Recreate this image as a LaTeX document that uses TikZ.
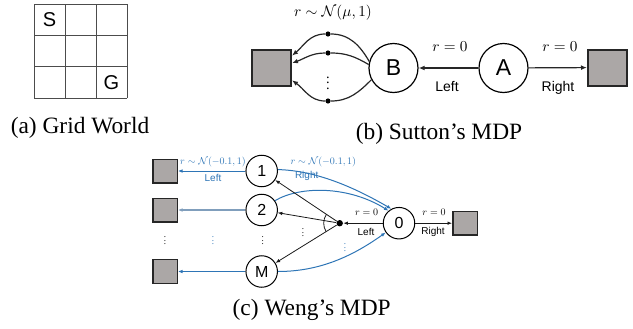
\RequirePackage{fix-cm}
\documentclass[tikz,border=0pt]{standalone}
\usepackage{graphicx}
\usepackage[no-math]{fontspec}
\setmainfont{Liberation Serif}
\setsansfont{Liberation Sans}
\usetikzlibrary{arrows.meta}
\definecolor{tgray}{RGB}{171,167,166}
\definecolor{mblue}{RGB}{46,117,182}
\definecolor{mbluegray}{RGB}{128,158,188}
\begin{document}
\begin{tikzpicture}[x=0.5pt,y=0.5pt,
  captext/.style={font=\fontsize{11.7}{13}\selectfont, anchor=base, inner sep=0},
  gridline/.style={draw=black!70, line width=0.5pt},
  glabel/.style={font=\sffamily\fontsize{10}{12}\selectfont, inner sep=0},
  bstate/.style={circle, draw, line width=0.6pt, minimum size=24.5pt, inner sep=0, font=\sffamily\fontsize{11.5}{12}\selectfont},
  cstate/.style={circle, draw, line width=0.5pt, minimum size=15.75pt, inner sep=0, font=\sffamily\fontsize{8}{9}\selectfont},
  bterm/.style={draw=black!85, fill=tgray, line width=1pt, minimum width=19.5pt, minimum height=18pt, inner sep=0},
  cterm/.style={draw=black!85, fill=tgray, line width=0.7pt, minimum width=12.2pt, minimum height=11.8pt, inner sep=0},
  bdot/.style={circle, fill, inner sep=0, minimum size=2.6pt},
  cdot/.style={circle, fill, inner sep=0, minimum size=3.2pt},
  bline/.style={draw=black!85, line width=0.6pt},
  barrow/.style={bline, -{Latex[length=3pt,width=2.4pt]}},
  cblk/.style={draw=black!90, line width=0.4pt, -{Latex[length=2.3pt,width=1.8pt]}},
  cblue/.style={draw=mblue, line width=0.5pt, -{Latex[length=2.3pt,width=1.8pt]}},
  blab/.style={font=\sffamily\fontsize{7}{8}\selectfont, anchor=base, inner sep=0},
  bmath/.style={font=\fontsize{10}{12}\selectfont, anchor=base, inner sep=0, scale=0.76},
  clab/.style={font=\sffamily\fontsize{5}{6}\selectfont, anchor=base, inner sep=0},
  cmath/.style={font=\fontsize{10}{12}\selectfont, anchor=base, inner sep=0, scale=0.5},
  vdotb/.style={inner sep=0, font=\fontsize{10}{12}\selectfont, scale=0.72},
  vdotc/.style={inner sep=0, font=\fontsize{10}{12}\selectfont, scale=0.45},
]
\useasboundingbox (0,0) rectangle (633,328);

% ---------- (a) Grid World ----------
\foreach \gx in {34,65,96,127} \draw[gridline] (\gx,230) -- (\gx,324);
\foreach \gy in {230,261.3,292.7,324} \draw[gridline] (34,\gy) -- (127,\gy);
\node[glabel] (S) at (49.5,308.3) {S};
\node[glabel] (G) at (111.5,245.7) {G};
\node[captext] (capa) at (80,195) {(a) Grid World};

% ---------- (b) Sutton's MDP ----------
\node[bterm] (sqL) at (271.5,260.5) {};
\node[bstate] (B) at (393.5,260) {B};
\node[bstate] (A) at (503.5,260) {A};
\node[bterm] (sqR) at (607.5,260.5) {};
\node[bdot] (d1) at (328,294) {};
\node[bdot] (d2) at (328,275) {};
\node[bdot] (d3) at (328,227) {};
\node[vdotb] (vb) at (328,249) {$\vdots$};

\draw[bline] (B.165) to[out=120,in=0] (d1);
\draw[bline] (B.172) to[out=150,in=0] (d2);
\draw[bline] (B.208) to[out=225,in=0] (d3);
\draw[barrow] (d1) to[out=180,in=40] (sqL.30);
\draw[barrow] (d2) to[out=180,in=20] (sqL.12);
\draw[barrow] (d3) to[out=180,in=-35] (sqL.-32);
\draw[barrow] (A) -- (B);
\draw[barrow] (A) -- (sqR);

\node[bmath] (rn) at (333,312) {$r\sim\mathcal{N}(\mu,1)$};
\node[bmath] (rl) at (450,276.5) {$r=0$};
\node[blab] (ll) at (447,236.3) {Left};
\node[bmath] (rr) at (560,276.5) {$r=0$};
\node[blab] (lr) at (558,236.3) {Right};
\node[captext] (capb) at (439,189) {(b) Sutton's MDP};

% ---------- (c) Weng's MDP ----------
\node[cterm] (s1) at (165,157) {};
\node[cterm] (s2) at (165,118) {};
\node[cterm] (s3) at (165,56.5) {};
\node[cstate] (n1) at (261.7,157) {1};
\node[cstate] (n2) at (261.7,118) {2};
\node[cstate] (nM) at (261.7,56.5) {M};
\node[cdot] (c) at (339.7,104.8) {};
\node[cstate] (n0) at (399,104.8) {0};
\node[cterm] (sR) at (465,104.8) {};

\node[vdotc] (v1) at (165,90) {$\vdots$};
\node[vdotc, text=mblue] (v2) at (213,90) {$\vdots$};
\node[vdotc] (v3) at (262.7,90) {$\vdots$};
\node[vdotc] (v4) at (303,98) {$\vdots$};
\node[vdotc, text=mblue] (v5) at (345,83) {$\vdots$};

\draw[cblue] (n1) -- (s1);
\draw[cblue, draw=mbluegray, line width=0.8pt] (n2) -- (s2);
\draw[cblue] (nM) -- (s3);

\draw[cblue] (n1.5) .. controls +(38,-1) and +(-38,22) .. (n0.118);
\draw[cblue] (n2.35) .. controls +(25,15) and +(-40,25) .. (n0.130);
\draw[cblue] (nM.east) .. controls +(40,0) and +(-35,-25) .. (n0.215);

\draw[cblk] (c) -- (n1);
\draw[cblk] (c) -- (n2);
\draw[cblk] (c) -- (nM);
\draw[draw=black!90, line width=0.4pt] (c.center) ++(146:16) arc[start angle=146, end angle=212, radius=16];
\draw[cblk] (n0) -- (c);
\draw[cblk] (n0) -- (sR);

\node[cmath, text=mblue] (rnl) at (213,164) {$r\sim\mathcal{N}(-0.1,1)$};
\node[clab, text=mblue] (lnl) at (213,146.3) {Left};
\node[cmath, text=mblue] (rnr) at (323.3,164) {$r\sim\mathcal{N}(-0.1,1)$};
\node[clab, text=mblue] (lnr) at (306.7,149.3) {Right};
\node[cmath] (r0l) at (366.7,113) {$r=0$};
\node[clab] (l0l) at (366,93) {Left};
\node[cmath] (r0r) at (434,113) {$r=0$};
\node[clab] (l0r) at (433,93.5) {Right};
\node[captext] (capc) at (311.7,13) {(c) Weng's MDP};
\end{tikzpicture}
\end{document}
